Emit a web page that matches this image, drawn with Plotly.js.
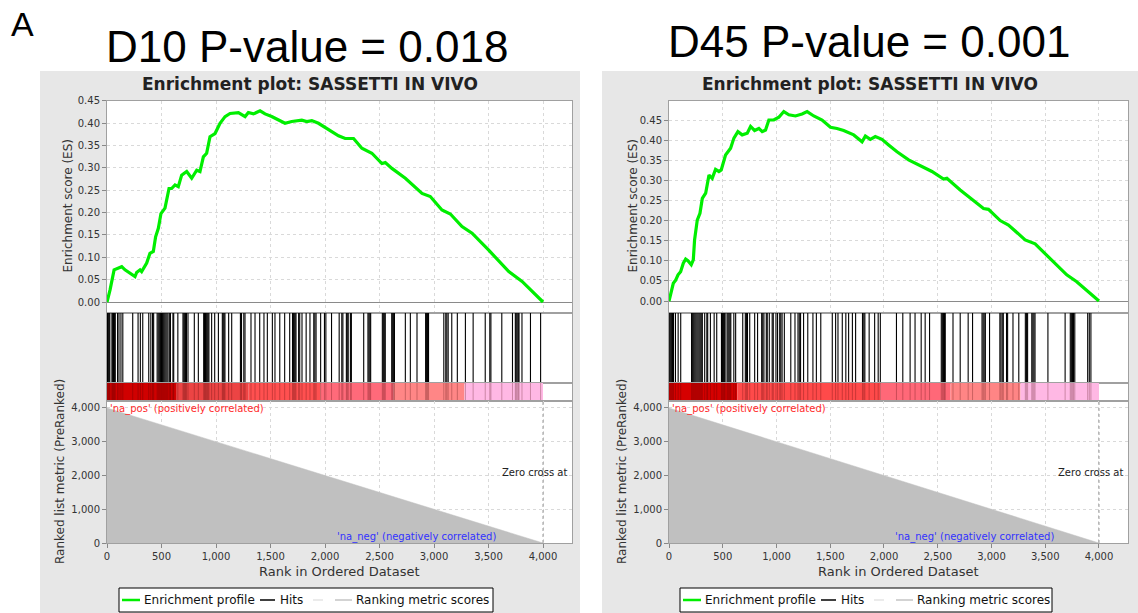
<!DOCTYPE html>
<html><head><meta charset="utf-8">
<script src="https://cdn.plot.ly/plotly-3.0.1.min.js"></script>
<style>html,body{margin:0;padding:0;background:#fff;}#chart{width:1138px;height:613px;}</style>
</head><body><div id="chart"></div>
<script>
// ---------------- DATA ----------------
const panelLabel = 'A';
const pTitleD10 = 'D10 P-value = 0.018';
const pTitleD45 = 'D45 P-value = 0.001';
const plotTitle = 'Enrichment plot: SASSETTI IN VIVO';

const esRankD10 = [0,28,65,104,135,165,211,257,272,303,318,364,394,425,446,471,495,532,569,593,624,654,685,731,777,823,853,884,914,945,991,1037,1083,1129,1206,1267,1297,1343,1404,1450,1511,1557,1633,1695,1787,1833,1879,1940,2001,2063,2124,2185,2262,2338,2430,2522,2553,2614,2737,2890,2966,3073,3150,3257,3349,3502,3686,3808,4000];
const esD10 = [0,0.027,0.072,0.075,0.079,0.072,0.064,0.057,0.066,0.072,0.068,0.087,0.109,0.113,0.146,0.165,0.198,0.210,0.254,0.254,0.262,0.258,0.284,0.292,0.277,0.295,0.292,0.325,0.333,0.370,0.377,0.400,0.415,0.422,0.424,0.415,0.424,0.421,0.428,0.421,0.415,0.409,0.400,0.404,0.407,0.404,0.406,0.400,0.391,0.381,0.372,0.366,0.366,0.344,0.333,0.310,0.312,0.299,0.277,0.243,0.236,0.206,0.197,0.169,0.154,0.116,0.068,0.046,0];

const esRankD45 = [0,22,40,62,84,108,133,155,176,207,226,238,263,288,310,341,372,402,433,464,486,526,573,604,641,681,728,759,796,836,867,898,929,975,1022,1068,1115,1176,1238,1285,1347,1424,1502,1563,1625,1718,1796,1827,1873,1919,1981,2043,2121,2229,2337,2446,2554,2585,2709,2833,2926,2972,3081,3158,3313,3406,3514,3700,3793,4000];
const esD45 = [0,0.023,0.044,0.052,0.065,0.073,0.094,0.104,0.100,0.090,0.102,0.152,0.201,0.218,0.255,0.268,0.313,0.305,0.327,0.322,0.326,0.363,0.380,0.405,0.421,0.413,0.417,0.434,0.424,0.429,0.421,0.425,0.450,0.450,0.457,0.471,0.463,0.460,0.465,0.471,0.460,0.450,0.432,0.429,0.424,0.413,0.396,0.410,0.402,0.409,0.402,0.388,0.371,0.351,0.336,0.322,0.303,0.305,0.276,0.251,0.230,0.228,0.200,0.189,0.152,0.142,0.114,0.065,0.048,0];

const hitsD10 = [5,12,20,26,45,52,60,68,76,97,110,128,145,236,285,306,328,383,402,418,428,460,470,480,490,500,510,520,530,540,550,560,575,582,605,612,650,697,705,713,721,729,743,801,838,887,895,903,911,919,927,935,960,988,1022,1058,1066,1074,1082,1116,1144,1224,1234,1255,1266,1321,1358,1401,1440,1471,1517,1541,1585,1630,1676,1702,1710,1718,1726,1734,1758,1768,1789,1827,1862,1897,1907,1918,1960,1995,2008,2060,2130,2154,2164,2196,2204,2213,2233,2242,2355,2394,2403,2412,2419,2526,2535,2544,2553,2612,2621,2630,2637,2737,2783,2844,2923,2932,2941,2950,3090,3108,3118,3130,3163,3214,3288,3359,3470,3512,3522,3622,3720,3746,3754,3763,3773,3780,3807,3885,3978];
const hitsD45 = [3,12,22,32,42,60,85,109,210,220,230,240,250,260,270,280,290,300,310,332,352,360,385,420,444,488,497,506,515,522,540,549,558,567,575,603,620,686,710,720,730,751,797,824,862,872,883,905,914,933,960,970,995,1010,1030,1040,1052,1073,1133,1172,1200,1212,1224,1252,1291,1339,1371,1412,1519,1550,1572,1612,1645,1671,1706,1736,1800,1812,1822,1862,1913,1946,1966,2116,2175,2243,2289,2346,2383,2424,2533,2543,2553,2563,2570,2642,2709,2783,2824,2912,2922,2932,2943,2982,3078,3088,3100,3110,3140,3150,3200,3254,3315,3325,3336,3375,3385,3395,3405,3525,3685,3733,3743,3753,3763,3775,3895,3910,3925];

const barEdgesD10 = [0,640,1300,1960,2630,3280,4000];
const barColorsD10 = ['#d00000','#ec4444','#ff5050','#ff6a7a','#ff8686','#ffb8e4'];
const barEdgesD45 = [0,635,1965,2620,3270,4000];
const barColorsD45 = ['#d60000','#ff4a4a','#ff6878','#ff8585','#ffb8e4'];

const metricRank = [0, 4000];
const metricValue = [4000, 0];
const zeroCrossD10 = 4000;
const zeroCrossD45 = 4000;
const negLabelRank = 2840;

const xTicks = [0,500,1000,1500,2000,2500,3000,3500,4000];
const esTicks = [0,0.05,0.10,0.15,0.20,0.25,0.30,0.35,0.40,0.45];
const rlTicks = [0,1000,2000,3000,4000];

const legendNames = ['Enrichment profile','Hits','','Ranking metric scores'];
const legendColors = ['#00ee00','#000000','#e4e4e4','#c4c4c4'];
const esTitle = 'Enrichment score (ES)';
const rlTitle = 'Ranked list metric (PreRanked)';
const xTitle = 'Rank in Ordered Dataset';
const posLabel = "'na_pos' (positively correlated)";
const negLabel = "'na_neg' (negatively correlated)";
const zeroLabel = 'Zero cross at';

// ---------------- LAYOUT / GEOMETRY ----------------
const W = 1138, H = 613;
const px = v => v / W, py = v => 1 - v / H;
const band = {top:[100.5,312.5], hits:[312.5,383], cbar:[383,401], bot:[401,543]};
// legend item offsets relative to the legend box left edge: [lineStart, lineEnd, textStart]
const legItems = [[3,21,23],[141,156,159],[194,204,null],[216,233,235]];
const panels = [
  {title:pTitleD10, es:[esRankD10, esD10], hits:hitsD10, edges:barEdgesD10, colors:barColorsD10, zero:zeroCrossD10,
   gray:[40,580], plot:[107,572], xr:[0,4266], esR:[-0.0235,0.451], tX:307, tY:46, ptX:310, esTX:67, rlTX:60, leg:[119,493]},
  {title:pTitleD45, es:[esRankD45, esD45], hits:hitsD45, edges:barEdgesD45, colors:barColorsD45, zero:zeroCrossD45,
   gray:[602,1140], plot:[669,1128], xr:[0,4270], esR:[-0.0286,0.4985], tX:869, tY:41, ptX:870, esTX:632, rlTX:622, leg:[680,1052]}
];

const FONT = 'DejaVu Sans';
const gridC = '#d9d9d9', frameC = '#a0a0a0';
const tickFont = {family:FONT, size:10, color:'#333'};
const fmt = v => v.toLocaleString('en-US');

const traces = [];
const layout = {
  width:W, height:H, margin:{l:0,r:0,t:0,b:0,autoexpand:false}, paper_bgcolor:'#fff', plot_bgcolor:'#fff',
  showlegend:false, font:{family:FONT, color:'#222'}, shapes:[], annotations:[]
};
const an = (n, l) => n === 1 ? l : l + n;
const lk = (n, l) => n === 1 ? l + 'axis' : l + 'axis' + n;

panels.forEach((p, i) => {
  const b = i * 4 + 1;
  const dom = [px(p.plot[0]), px(p.plot[1])];
  const ydom = k => [py(band[k][1]), py(band[k][0])];
  const baseX = {domain:dom, range:p.xr, zeroline:false, showline:true, mirror:true, linecolor:frameC, linewidth:1, fixedrange:true};
  layout[lk(b,'x')] = Object.assign({}, baseX, {anchor:an(b,'y'), tickvals:xTicks, showticklabels:false, ticks:'', showgrid:true, gridcolor:gridC, griddash:'3px,3px'});
  layout[lk(b,'y')] = {domain:ydom('top'), range:p.esR, anchor:an(b,'x'), tickvals:esTicks, ticktext:esTicks.map(v=>v.toFixed(2)), ticks:'outside', ticklen:4, tickcolor:'#888', tickfont:tickFont,
    showgrid:true, gridcolor:gridC, griddash:'3px,3px', zeroline:true, zerolinecolor:'#8a8a8a', zerolinewidth:1, showline:true, mirror:true, linecolor:frameC, fixedrange:true};
  layout[lk(b+1,'x')] = Object.assign({}, baseX, {anchor:an(b+1,'y'), showticklabels:false, ticks:'', showgrid:false});
  layout[lk(b+1,'y')] = {domain:ydom('hits'), range:[0,1], anchor:an(b+1,'x'), showticklabels:false, ticks:'', showgrid:false, zeroline:false, showline:true, mirror:true, linecolor:frameC, fixedrange:true};
  layout[lk(b+2,'x')] = Object.assign({}, baseX, {anchor:an(b+2,'y'), showticklabels:false, ticks:'', showgrid:false});
  layout[lk(b+2,'y')] = {domain:ydom('cbar'), range:[0,1], anchor:an(b+2,'x'), showticklabels:false, ticks:'', showgrid:false, zeroline:false, showline:true, mirror:true, linecolor:frameC, fixedrange:true};
  layout[lk(b+3,'x')] = Object.assign({}, baseX, {anchor:an(b+3,'y'), tickvals:xTicks, ticktext:xTicks.map(fmt), ticks:'outside', ticklen:4, tickcolor:'#888', tickfont:tickFont, showgrid:true, gridcolor:gridC, griddash:'3px,3px'});
  layout[lk(b+3,'y')] = {domain:ydom('bot'), range:[0,4207], anchor:an(b+3,'x'), tickvals:rlTicks, ticktext:rlTicks.map(fmt), ticks:'outside', ticklen:4, tickcolor:'#888', tickfont:tickFont,
    showgrid:true, gridcolor:gridC, griddash:'3px,3px', zeroline:false, showline:true, mirror:true, linecolor:frameC, fixedrange:true};

  const ax = n => ({xaxis:an(n,'x'), yaxis:an(n,'y')});
  const vl = arr => { const x=[], y=[]; arr.forEach(r => { x.push(r, r, null); y.push(0, 1, null); }); return {x, y}; };
  const hv = vl(p.hits);

  traces.push(Object.assign({type:'scatter', mode:'lines', x:p.es[0], y:p.es[1], line:{color:legendColors[0], width:3.2}, name:legendNames[0], hoverinfo:'skip'}, ax(b)));
  traces.push(Object.assign({type:'scatter', mode:'lines', x:hv.x, y:hv.y, line:{color:legendColors[1], width:1.1}, name:legendNames[1], hoverinfo:'skip'}, ax(b+1)));
  const centers = [], widths = [], ones = [];
  for (let k = 0; k < p.colors.length; k++) { centers.push((p.edges[k] + p.edges[k+1]) / 2); widths.push(p.edges[k+1] - p.edges[k]); ones.push(1); }
  traces.push(Object.assign({type:'bar', x:centers, y:ones, width:widths, base:0, marker:{color:p.colors, line:{width:0}}, hoverinfo:'skip'}, ax(b+2)));
  traces.push(Object.assign({type:'scatter', mode:'lines', x:hv.x, y:hv.y, line:{color:'rgba(70,0,0,0.28)', width:1}, hoverinfo:'skip'}, ax(b+2)));
  traces.push(Object.assign({type:'scatter', mode:'lines', x:metricRank, y:metricValue, fill:'tozeroy', fillcolor:'#c0c0c0', line:{color:'#c0c0c0', width:0.5}, name:legendNames[3], hoverinfo:'skip'}, ax(b+3)));

  // backgrounds
  layout.shapes.push({type:'rect', xref:'paper', yref:'paper', x0:px(p.gray[0]), x1:px(p.gray[1]), y0:0, y1:py(71), fillcolor:'#e7e7e7', line:{width:0}, layer:'below'});
  layout.shapes.push({type:'rect', xref:'paper', yref:'paper', x0:px(p.plot[0]), x1:px(p.plot[1]), y0:py(band.bot[1]), y1:py(band.top[0]), fillcolor:'#ffffff', line:{width:0}, layer:'below'});
  layout.shapes.push({type:'line', xref:an(b+3,'x'), yref:an(b+3,'y')+' domain', x0:p.zero, x1:p.zero, y0:0, y1:1, line:{color:'#9a9a9a', width:1, dash:'3px,3px'}});

  // legend box (drawn)
  const L = p.leg[0], legTop = 588, legBot = 612, legMid = 600;
  layout.shapes.push({type:'rect', xref:'paper', yref:'paper', x0:px(L), x1:px(p.leg[1]), y0:py(legBot), y1:py(legTop), fillcolor:'#fff', line:{color:'#000', width:1}});
  legItems.forEach((it, k) => {
    layout.shapes.push({type:'line', xref:'paper', yref:'paper', x0:px(L+it[0]), x1:px(L+it[1]), y0:py(legMid), y1:py(legMid), line:{color:legendColors[k], width:k===0?2.5:1.5}});
    if (it[2] !== null && legendNames[k]) layout.annotations.push({xref:'paper', yref:'paper', x:px(L+it[2]), y:py(legMid), xanchor:'left', yanchor:'middle', text:legendNames[k], showarrow:false, font:{family:FONT, size:12, color:'#111'}});
  });

  // annotations
  const A = layout.annotations;
  A.push({xref:'paper', yref:'paper', x:px(p.tX), y:py(p.tY), text:p.title, showarrow:false, xanchor:'center', yanchor:'middle', font:{family:'Liberation Sans', size:44, color:'#000'}});
  A.push({xref:'paper', yref:'paper', x:px(p.ptX), y:py(84), text:'<b>'+plotTitle+'</b>', showarrow:false, xanchor:'center', yanchor:'middle', font:{family:FONT, size:17, color:'#222'}});
  A.push({xref:'paper', yref:'paper', x:px(p.esTX), y:py((band.top[0]+band.top[1])/2), text:esTitle, textangle:-90, showarrow:false, xanchor:'center', yanchor:'middle', font:{family:FONT, size:12, color:'#333'}});
  A.push({xref:'paper', yref:'paper', x:px(p.rlTX), y:py(472), text:rlTitle, textangle:-90, showarrow:false, xanchor:'center', yanchor:'middle', font:{family:FONT, size:12, color:'#333'}});
  A.push({xref:'paper', yref:'paper', x:px((p.plot[0]+p.plot[1])/2), y:py(571), text:xTitle, showarrow:false, xanchor:'center', yanchor:'middle', font:{family:FONT, size:13, color:'#333'}});
  A.push({xref:an(b+3,'x'), yref:an(b+3,'y')+' domain', x:0, y:1, xanchor:'left', yanchor:'top', xshift:1, text:posLabel, showarrow:false, font:{family:FONT, size:10, color:'#ff2a2a'}});
  A.push({xref:an(b+3,'x'), yref:an(b+3,'y'), x:negLabelRank, y:0, xanchor:'center', yanchor:'bottom', yshift:-2, text:negLabel, showarrow:false, font:{family:FONT, size:10, color:'#3232ff'}});
  A.push({xref:an(b+3,'x')+' domain', yref:an(b+3,'y'), x:1, y:2100, xanchor:'right', yanchor:'middle', xshift:-3, text:zeroLabel, showarrow:false, font:{family:FONT, size:10, color:'#222'}});
});
layout.annotations.push({xref:'paper', yref:'paper', x:px(9), y:py(24), text:panelLabel, showarrow:false, xanchor:'left', yanchor:'middle', font:{family:'Liberation Sans', size:34, color:'#000'}});

Plotly.newPlot('chart', traces, layout, {displayModeBar:false, staticPlot:true});
</script></body></html>
